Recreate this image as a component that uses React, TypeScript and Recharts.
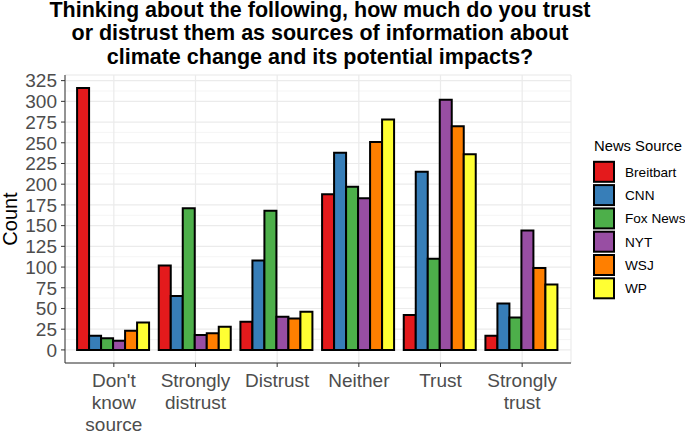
import { Bar, BarChart, CartesianGrid, Legend, XAxis, YAxis } from "recharts";

const categories = ["Don't\nknow\nsource", "Strongly\ndistrust", "Distrust", "Neither", "Trust", "Strongly\ntrust"];
const sources = ["Breitbart", "CNN", "Fox News", "NYT", "WSJ", "WP"];
const colors = ["#E41A1C", "#377EB8", "#4DAF4A", "#984EA3", "#FF7F00", "#FFFF33"];

const breitbart = [316, 102, 34, 188, 42, 17];
const cnn = [17, 65, 108, 238, 215, 56];
const foxNews = [14, 171, 168, 197, 110, 39];
const nyt = [11, 18, 40, 183, 302, 144];
const wsj = [23, 20, 38, 251, 270, 99];
const wp = [33, 28, 46, 278, 236, 79];

const majorTicks = [0, 25, 50, 75, 100, 125, 150, 175, 200, 225, 250, 275, 300, 325];
const minorTicks = [-12.5, 12.5, 37.5, 62.5, 87.5, 112.5, 137.5, 162.5, 187.5, 212.5, 237.5, 262.5, 287.5, 312.5];

const titleLines = [
  "Thinking about the following, how much do you trust",
  "or distrust them as sources of information about",
  "climate change and its potential impacts?"
];

const seriesValues = [breitbart, cnn, foxNews, nyt, wsj, wp];
const rows = categories.map((category, i) => {
  const row: Record<string, string | number> = { category };
  sources.forEach((s, j) => {
    row[s] = seriesValues[j][i];
  });
  return row;
});

// ggplot-style 5% expansion of the value axis
const maxValue = Math.max(...seriesValues.flat());
const yDomain = [-0.05 * maxValue, maxValue * 1.05];

const FONT = "'Liberation Sans', Arial, sans-serif";
const BORDER = "#333333";

function CategoryTick({ x, y, payload }: any) {
  const lines = String(payload.value).split("\n");
  return (
    <text x={x} y={y} textAnchor="middle" fill="#4D4D4D" fontSize={19} fontFamily={FONT}>
      {lines.map((line, i) => (
        <tspan key={i} x={x} dy={i === 0 ? 17.5 : 22}>
          {line}
        </tspan>
      ))}
    </text>
  );
}

function SourceLegend() {
  return (
    <svg width={110} height={175} style={{ display: "block" }}>
      <text x={19} y={21} fontSize={14.8} fontFamily={FONT} fill="#000">
        News Source
      </text>
      {sources.map((s, i) => {
        const cy = 41.8 + i * 23.3;
        return (
          <g key={s}>
            <rect x={19} y={cy - 10} width={20} height={20} fill={colors[i]} stroke="#000" strokeWidth={2} />
            <text x={50} y={cy + 5} fontSize={13.6} fontFamily={FONT} fill="#000">
              {s}
            </text>
          </g>
        );
      })}
    </svg>
  );
}

export default function App() {
  return (
    <div style={{ position: "absolute", left: 0, top: 0, width: 685, height: 431, background: "#fff" }}>
      <svg width={685} height={75} style={{ position: "absolute", left: 0, top: 0 }}>
        {titleLines.map((line, i) => (
          <text key={i} x={320} y={17 + i * 23.3} textAnchor="middle" fontSize={21.5} fontWeight="bold" fontFamily={FONT} fill="#000">
            {line}
          </text>
        ))}
      </svg>
      <BarChart
        width={685}
        height={431}
        data={rows}
        margin={{ top: 75, right: 114, bottom: 0, left: 0 }}
        barCategoryGap="5%"
        barGap={0}
      >
        <CartesianGrid yAxisId="minor" vertical={false} stroke="#F2F2F2" strokeWidth={0.8} />
        <CartesianGrid stroke="#EBEBEB" strokeWidth={1.2} />
        <XAxis
          dataKey="category"
          height={68}
          padding={{ left: 8, right: 8 }}
          tick={<CategoryTick />}
          tickSize={4}
          tickLine={{ stroke: BORDER }}
          axisLine={{ stroke: BORDER }}
          interval={0}
        />
        <XAxis xAxisId="top" dataKey="category" orientation="top" height={0} tick={false} tickLine={false} axisLine={{ stroke: BORDER }} />
        <YAxis
          type="number"
          width={65}
          domain={yDomain}
          allowDataOverflow
          ticks={majorTicks}
          interval={0}
          tickSize={4}
          tickMargin={4}
          tickLine={{ stroke: BORDER }}
          axisLine={{ stroke: BORDER }}
          tick={{ fill: "#4D4D4D", fontSize: 19, fontFamily: FONT }}
          label={({ viewBox }: any) => (
            <text
              x={viewBox.x + 17}
              y={viewBox.y + viewBox.height / 2}
              transform={`rotate(-90, ${viewBox.x + 17}, ${viewBox.y + viewBox.height / 2})`}
              textAnchor="middle"
              fontSize={20}
              fontFamily={FONT}
              fill="#000"
            >
              Count
            </text>
          )}
        />
        <YAxis yAxisId="minor" type="number" domain={yDomain} allowDataOverflow ticks={minorTicks} hide />
        <YAxis yAxisId="right" type="number" orientation="right" width={0} domain={yDomain} allowDataOverflow tick={false} tickLine={false} axisLine={{ stroke: BORDER }} />
        <Legend
          align="center"
          verticalAlign="middle"
          content={<SourceLegend />}
          wrapperStyle={{ left: 575, top: 130, width: 110, height: 175 }}
        />
        {sources.map((s, i) => (
          <Bar key={s} dataKey={s} fill={colors[i]} stroke="#000" strokeWidth={2} isAnimationActive={false} />
        ))}
      </BarChart>
    </div>
  );
}
